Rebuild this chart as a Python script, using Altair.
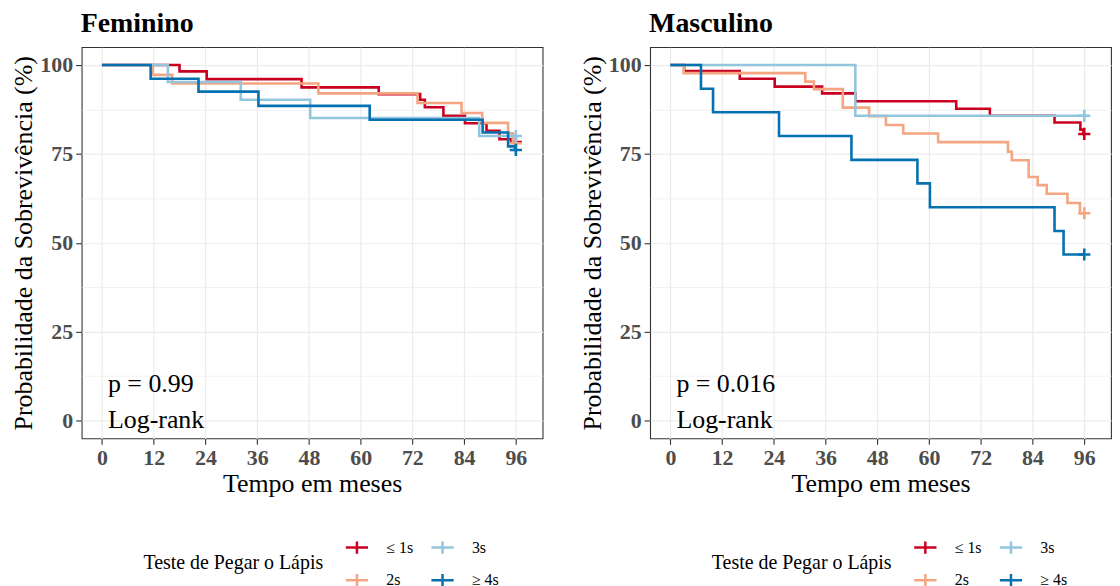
import altair as alt
import pandas as pd

FONT = "Liberation Serif"

GROUPS = ["≤ 1s", "2s", "3s", "≥ 4s"]
COLORS = ["#CA0020", "#F4A582", "#92C5DE", "#0571B0"]

PANELS = ["Feminino", "Masculino"]
P_TEXT = ["p = 0.99", "p = 0.016"]

# ---- Feminino ----
fem_le1_t = [0, 18.0, 24.3, 46.3, 64.2, 73.8, 74.9, 79.2, 84.2, 89.2, 92.2, 95.0, 96]
fem_le1_s = [100, 98.2, 96.0, 93.7, 91.8, 90.2, 88.1, 85.7, 83.6, 81.5, 79.1, 78.3, 78.3]
fem_2_t = [0, 11.8, 16.3, 50.2, 73.2, 83.4, 88.2, 94.2, 95.3, 96]
fem_2_s = [100, 97.2, 94.8, 92.0, 89.3, 86.5, 83.7, 80.8, 78.0, 78.0]
fem_3_t = [0, 15.3, 32.2, 48.3, 87.5, 96]
fem_3_s = [100, 95.2, 90.2, 85.1, 80.0, 80.0]
fem_4_t = [0, 11.3, 22.4, 36.3, 62.1, 88.3, 94.2, 95.8, 96]
fem_4_s = [100, 96.1, 92.5, 88.5, 84.6, 81.0, 77.1, 76.1, 76.1]

# ---- Masculino ----
mas_le1_t = [0, 3.2, 16.1, 24.2, 35.2, 42.9, 66.3, 74.1, 89.1, 95.1, 95.8, 96]
mas_le1_s = [100, 98.3, 96.1, 93.9, 92.0, 89.8, 87.7, 85.7, 83.8, 81.8, 80.6, 80.6]
mas_2_t = [0, 3.1, 31.3, 33.3, 40.0, 46.1, 50.0, 54.0, 62.1, 78.3, 79.2, 83.1, 85.2, 87.3, 92.1, 95.0, 96]
mas_2_s = [100, 97.7, 95.3, 93.2, 88.0, 85.6, 83.1, 80.7, 78.3, 75.6, 73.2, 68.5, 66.2, 63.8, 61.2, 58.3, 58.3]
mas_3_t = [0, 42.9, 96]
mas_3_s = [100, 85.7, 85.7]
mas_4_t = [0, 7.1, 9.9, 25.2, 42.0, 57.3, 60.2, 89.1, 91.2, 96]
mas_4_s = [100, 93.3, 86.7, 80.0, 73.3, 66.7, 60.0, 53.3, 46.7, 46.7]

SERIES = {
    "Feminino": [(fem_le1_t, fem_le1_s), (fem_2_t, fem_2_s), (fem_3_t, fem_3_s), (fem_4_t, fem_4_s)],
    "Masculino": [(mas_le1_t, mas_le1_s), (mas_2_t, mas_2_s), (mas_3_t, mas_3_s), (mas_4_t, mas_4_s)],
}

X_TICKS = list(range(0, 97, 6))
Y_TICKS = [0, 12.5, 25, 37.5, 50, 62.5, 75, 87.5, 100]

color_scale = alt.Scale(domain=GROUPS, range=COLORS)
legend = alt.Legend(
    title="Teste de Pegar o Lápis",
    orient="none", legendX=62, legendY=490,
    columns=2, titleOrient="left", titleAnchor="middle", titleBaseline="middle",
    titleFont=FONT, titleFontSize=20, titleFontWeight="normal", titleColor="black",
    titlePadding=21, titleLimit=400, labelLimit=200,
    labelFont=FONT, labelFontSize=16, labelColor="black", labelOffset=17,
    symbolType="M-1,0H1M0,-0.55V0.55", symbolSize=500, symbolStrokeWidth=2.5,
    rowPadding=9, columnPadding=12,
)
cross = "M-1,0H1M0,-1V1"

x_axis = alt.Axis(
    values=X_TICKS, format="d",
    labelExpr="datum.value % 12 === 0 ? datum.label : ''",
    tickOpacity={"condition": {"test": "datum.value % 12 !== 0", "value": 0}, "value": 1},
    gridWidth={"condition": {"test": "datum.value % 12 !== 0", "value": 0.7}, "value": 1.2},
    title="Tempo em meses", titlePadding=2,
)
y_axis = alt.Axis(
    values=Y_TICKS, format="d",
    labelExpr="datum.value % 25 === 0 ? datum.label : ''",
    tickOpacity={"condition": {"test": "datum.value % 25 !== 0", "value": 0}, "value": 1},
    gridWidth={"condition": {"test": "datum.value % 25 !== 0", "value": 0.7}, "value": 1.2},
    title="Probabilidade da Sobrevivência (%)", titlePadding=3,
)
xs = alt.Scale(domain=[-4.7, 102.2], nice=False, zero=False)
ys = alt.Scale(domain=[-5, 105], nice=False, zero=False)


def make_panel(name, ptxt):
    layers = []
    for g, (t, s) in zip(GROUPS, SERIES[name]):
        df = pd.DataFrame({"time": t, "surv": s, "grupo": g})
        line = alt.Chart(df).mark_line(interpolate="step-after", strokeWidth=2.6).encode(
            x=alt.X("time:Q", scale=xs, axis=x_axis),
            y=alt.Y("surv:Q", scale=ys, axis=y_axis),
            color=alt.Color("grupo:N", scale=color_scale, legend=legend),
        )
        cdf = pd.DataFrame({"time": [t[-1]], "surv": [s[-1]], "grupo": [g]})
        pt = alt.Chart(cdf).mark_point(shape=cross, size=150, filled=False, strokeWidth=2.6, opacity=1).encode(
            x=alt.X("time:Q", scale=xs, axis=x_axis),
            y=alt.Y("surv:Q", scale=ys, axis=y_axis),
            color=alt.Color("grupo:N", scale=color_scale, legend=legend),
        )
        layers += [line, pt]
    tdf = pd.DataFrame({"x": [1.4, 1.4], "y": [8.1, -2.0], "txt": [ptxt, "Log-rank"]})
    txt = alt.Chart(tdf).mark_text(align="left", baseline="alphabetic", font=FONT,
                                   fontSize=26, color="black").encode(
        x=alt.X("x:Q", scale=xs), y=alt.Y("y:Q", scale=ys), text="txt:N")
    layers.append(txt)
    return alt.layer(*layers).properties(
        width=463, height=393,
        title=alt.TitleParams(name, anchor="start", font=FONT, fontSize=28,
                              fontWeight="bold", color="black", offset=9, dx=70),
    )


chart = alt.hconcat(
    *[make_panel(n, p) for n, p in zip(PANELS, P_TEXT)], spacing=35
).resolve_legend(color="independent").properties(
    padding={"left": 2, "top": 0, "right": 0, "bottom": 0}
).configure_view(
    stroke="#333333", strokeWidth=1.1
).configure_axis(
    domain=False, tickColor="#333333", tickSize=6, tickWidth=1.1,
    labelFont=FONT, labelFontSize=22, labelFontWeight="bold", labelColor="#4D4D4D",
    labelPadding=3,
    titleFont=FONT, titleFontSize=26, titleFontWeight="normal", titleColor="black",
    gridColor="#EBEBEB",
).configure_legend(
    labelFont=FONT, titleFont=FONT, labelFontSize=16, titleFontSize=20,
    titleLimit=400, labelLimit=200,
)

chart.save("out.html", embed_options={"renderer": "svg", "actions": False})
